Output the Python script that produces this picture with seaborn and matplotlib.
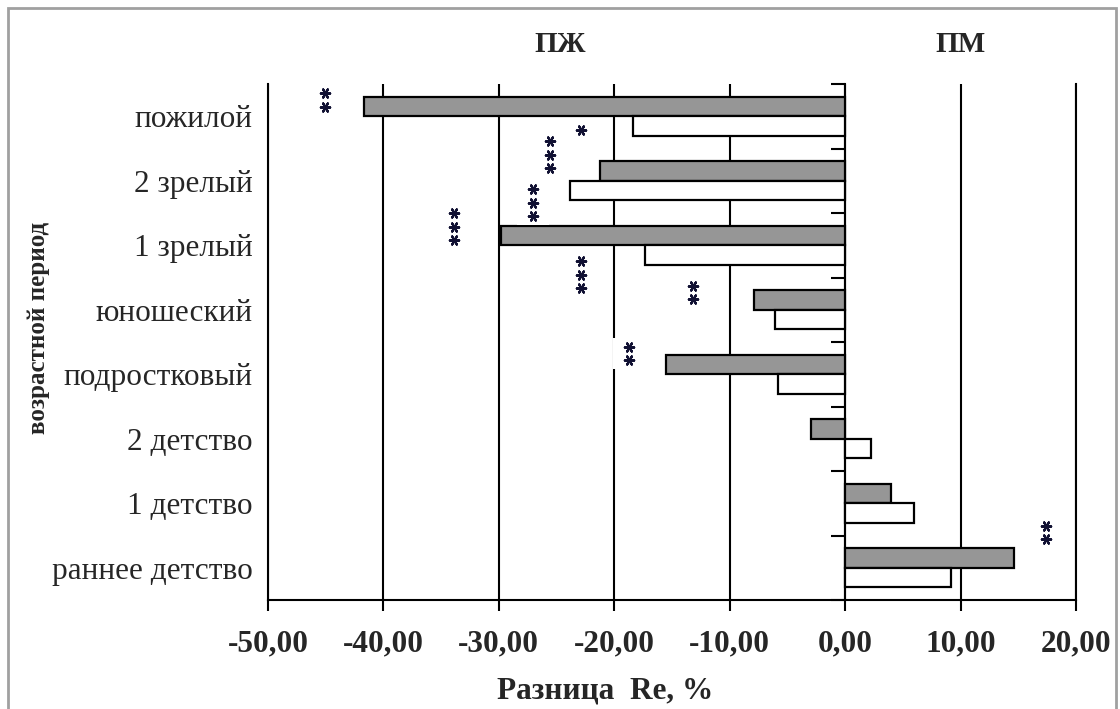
import numpy as np
import pandas as pd
import matplotlib
matplotlib.use("Agg")
import matplotlib.pyplot as plt
import seaborn as sns
from matplotlib.ticker import FuncFormatter
from matplotlib.patches import Rectangle

# Age periods, top to bottom
periods = ["пожилой", "2 зрелый", "1 зрелый", "юношеский",
           "подростковый", "2 детство", "1 детство", "раннее детство"]
series_names = ["Ряд1", "Ряд2"]
values_grey = [-41.7, -21.2, -29.8, -7.9, -15.5, -3.0, 4.0, 14.6]
values_white = [-18.4, -23.8, -17.3, -6.1, -5.8, 2.2, 6.0, 9.2]

# Significance marks: x value, category position, number of asterisks
star_x = [-45.1, -22.9, -25.6, -27.0, -33.9, -22.9, -13.2, -18.7, 17.4]
star_y = [-0.25, 0.22, 0.60, 1.34, 1.71, 2.46, 2.73, 3.68, 6.45]
star_n = [2, 1, 3, 3, 3, 3, 2, 2, 2]

x_ticks = [-50, -40, -30, -20, -10, 0, 10, 20]

df = pd.DataFrame({
    "period": periods * 2,
    "series": [series_names[0]] * len(periods) + [series_names[1]] * len(periods),
    "value": values_grey + values_white,
})

sns.set_theme(style="white")
plt.rcParams["font.family"] = ["Liberation Serif", "DejaVu Serif"]

fig = plt.figure(figsize=(11.2, 7.09), dpi=100)
ax = fig.add_axes([268 / 1120, 1 - 600 / 709, (1076 - 268) / 1120, (600 - 84) / 709])

sns.barplot(data=df, x="value", y="period", hue="series", order=periods,
            hue_order=series_names, palette=["#969696", "#ffffff"],
            saturation=1, edgecolor="black", linewidth=1.6, width=0.6,
            orient="h", legend=False, ax=ax)

ax.set_xlim(-50, 20)
ax.set_ylim(7.5, -0.5)
ax.set_xticks(x_ticks)
ax.xaxis.set_major_formatter(FuncFormatter(lambda v, p: f"{v:.2f}".replace(".", ",")))
ax.grid(axis="x", color="black", linewidth=1.5)
ax.grid(axis="y", visible=False)
ax.set_axisbelow(True)

ax.spines["top"].set_visible(False)
for side in ["left", "right", "bottom"]:
    ax.spines[side].set_visible(True)
    ax.spines[side].set_color("black")
    ax.spines[side].set_linewidth(1.5)

ax.tick_params(axis="x", direction="out", length=8, width=1.5, color="black",
               labelsize=22.5, pad=13, bottom=True)
for lab in ax.get_xticklabels():
    lab.set_fontweight("bold")
ax.tick_params(axis="y", length=0, labelsize=22.5, pad=11, left=False)
ax.set_xlabel("")
ax.set_ylabel("")

# Category axis crossing at zero, ticks between categories
sec = ax.secondary_yaxis(50 / 70)
sec.set_alignment("left")
sec.set_yticks(np.arange(-0.5, len(periods), 1.0))
sec.set_yticklabels([])
sec.tick_params(axis="y", length=10, width=1.5, color="black", direction="out")
sec.spines["left"].set_color("black")
sec.spines["left"].set_linewidth(1.5)

# Asterisks with a white backing
step = 0.21
sx, sy = [], []
for x, y, n in zip(star_x, star_y, star_n):
    for k in range(n):
        sx.append(x)
        sy.append(y + (k - (n - 1) / 2) * step)
box = [(-1.7, -1), (1.7, -1), (1.7, 1), (-1.7, 1), (-1.7, -1)]
ax.scatter(sx, sy, marker=box, s=530, c="white", linewidths=0, zorder=3)
ax.scatter(sx, sy, marker=(6, 2, 90), s=45, c="#111133", linewidths=1.6,
           zorder=4)

# Headings and axis titles
fig.text(560 / 1120, 1 - 45 / 709, "ПЖ", fontsize=21, fontweight="bold",
         ha="center", va="center")
fig.text(960 / 1120, 1 - 45 / 709, "ПМ", fontsize=21, fontweight="bold",
         ha="center", va="center")
fig.text(605 / 1120, 1 - 691 / 709, "Разница  Re, %", fontsize=22.5,
         fontweight="bold", ha="center", va="center")
fig.text(39 / 1120, 1 - 328 / 709, "возрастной период", fontsize=18,
         fontweight="bold", ha="center", va="center", rotation=90)

# Chart frame
fig.add_artist(Rectangle((8 / 1120, -0.05), (1116 - 8) / 1120, 1.05 - 8 / 709,
                         transform=fig.transFigure, fill=False,
                         edgecolor="#a0a0a0", linewidth=2, clip_on=False))

fig.savefig("out.png", dpi=100)
